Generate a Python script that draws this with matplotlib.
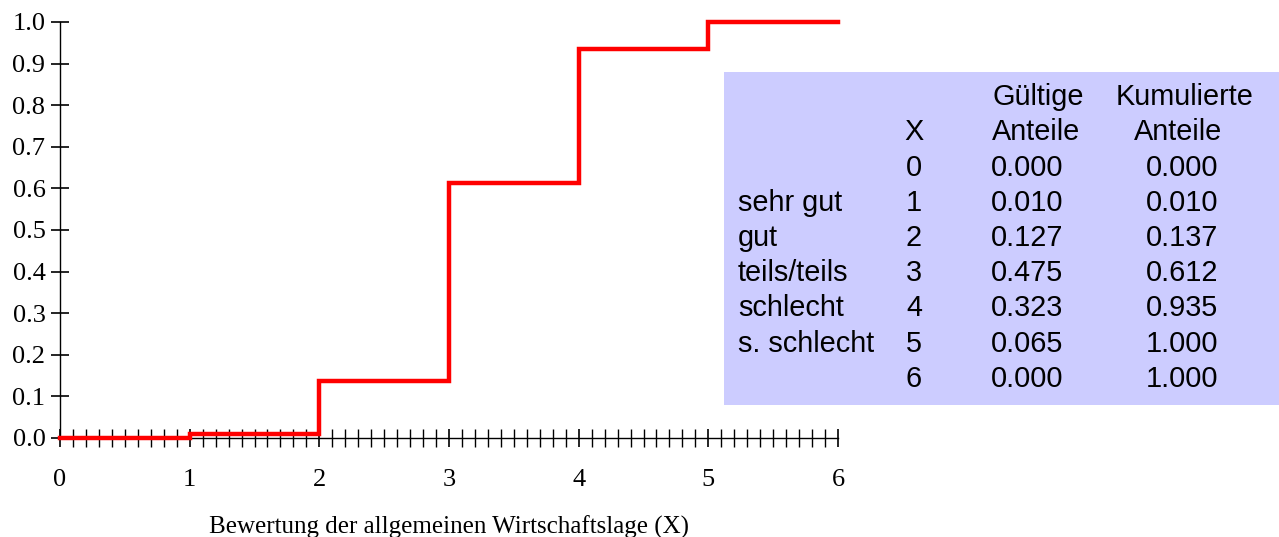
import matplotlib
matplotlib.use("Agg")
import matplotlib.pyplot as plt
from matplotlib.patches import Rectangle
from matplotlib.ticker import MultipleLocator

# ---- data ----
x_vals = [0, 1, 2, 3, 4, 5, 6]
kumuliert = [0.000, 0.010, 0.137, 0.612, 0.935, 1.000, 1.000]
gueltig = [0.000, 0.010, 0.127, 0.475, 0.323, 0.065, 0.000]
kategorien = ["", "sehr gut", "gut", "teils/teils", "schlecht", "s. schlecht", ""]
y_ticks = [0.0, 0.1, 0.2, 0.3, 0.4, 0.5, 0.6, 0.7, 0.8, 0.9, 1.0]
x_label = "Bewertung der allgemeinen Wirtschaftslage (X)"

W, H = 1279, 537
fig = plt.figure(figsize=(W / 100, H / 100), dpi=100)
ax = fig.add_axes([60 / W, 1 - 438 / H, (838 - 60) / W, (438 - 22) / H])

ax.step(x_vals, kumuliert, where="post", color="#ff0000", lw=3.2,
        solid_joinstyle="miter", zorder=3, clip_on=False)

ax.set_xlim(0, 6)
ax.set_ylim(0, 1.0)
ax.set_xticks(x_vals)
ax.xaxis.set_minor_locator(MultipleLocator(0.1))
ax.set_yticks(y_ticks)
ax.set_yticklabels([f"{v:.1f}" for v in y_ticks])
for s in ["top", "right"]:
    ax.spines[s].set_visible(False)
for s in ["left", "bottom"]:
    ax.spines[s].set_linewidth(1.0)
    ax.spines[s].set_color("black")

serif = ["Liberation Serif", "DejaVu Serif"]
ax.tick_params(axis="both", which="major", direction="inout", length=13, width=1.2,
               color="black", labelsize=19)
ax.tick_params(axis="x", which="minor", direction="inout", length=13, width=1.0, color="black")
ax.tick_params(axis="x", which="major", pad=16)
ax.tick_params(axis="y", which="major", pad=4)
for lab in ax.get_xticklabels() + ax.get_yticklabels():
    lab.set_fontfamily(serif)

fig.text(449 / W, 1 - 527 / H, x_label, ha="center", va="center",
         fontsize=18, family=serif)

# ---- table box ----
fig.patches.append(Rectangle((724 / W, 1 - 405 / H), (W - 724) / W, (405 - 72) / H,
                             transform=fig.transFigure, facecolor="#ccccff",
                             edgecolor="none", zorder=0))
sans = ["Liberation Sans", "DejaVu Sans"]
fs = 20.8
def t(px, py, s, ha="left"):
    fig.text(px / W, 1 - py / H, s, ha=ha, va="center", fontsize=fs, family=sans)

t(992, 97, "Gültige")
t(1185, 97, "Kumulierte", "center")
t(914, 132, "X", "center")
t(992, 132, "Anteile")
t(1178, 132, "Anteile", "center")
row_y0, dy = 168, 35.1
for i, (x, g, k, c) in enumerate(zip(x_vals, gueltig, kumuliert, kategorien)):
    y = row_y0 + i * dy
    if c:
        t(738, y, c)
    t(914, y, str(x), "center")
    t(991, y, f"{g:.3f}")
    t(1182, y, f"{k:.3f}", "center")

fig.savefig("out.png", dpi=100)
